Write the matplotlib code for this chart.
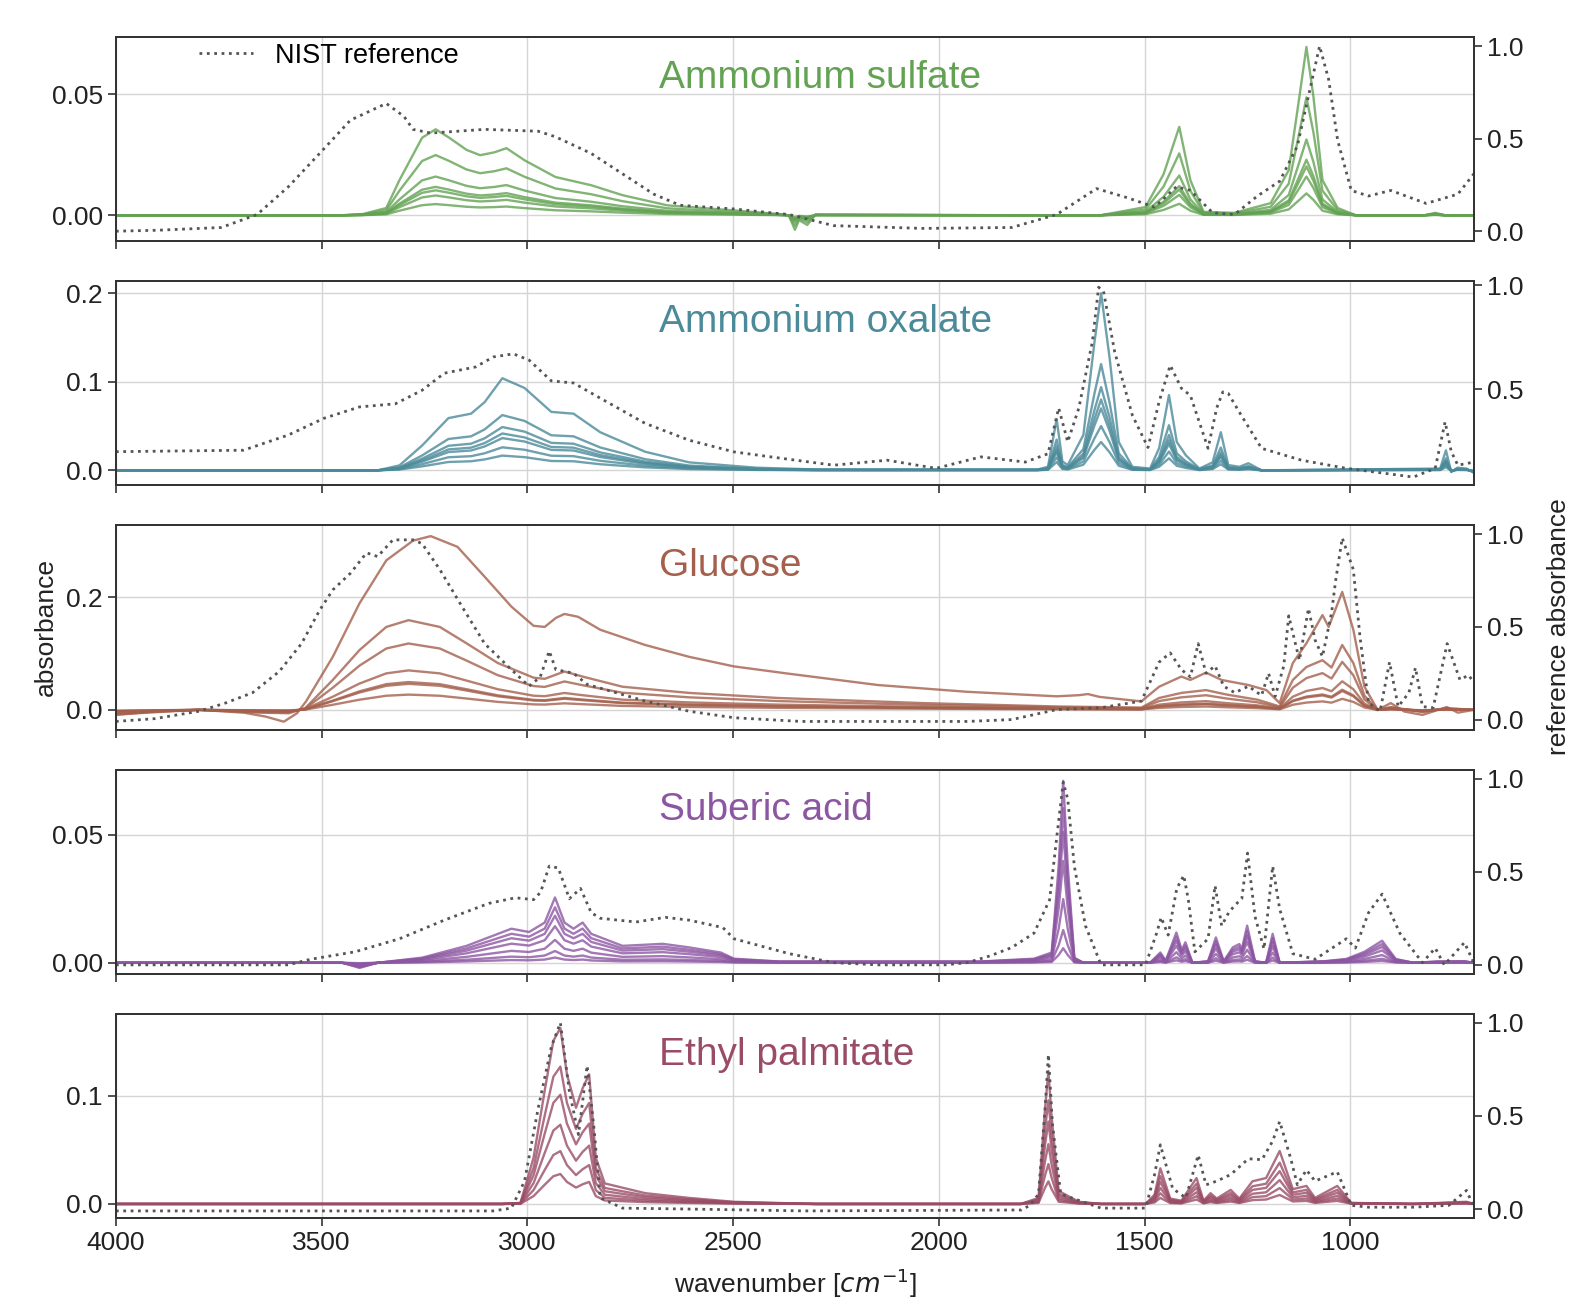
import matplotlib
matplotlib.use("Agg")
import matplotlib.pyplot as plt
import numpy as np
from matplotlib.ticker import MultipleLocator

plt.rcParams['font.family'] = ['Liberation Sans', 'DejaVu Sans']

# (wavenumber, absorbance) read off the figure; measured curves use the left axis,
# NIST references the right (normalised) axis.
SULFATE_MEAS = [(4000, 0), (3450, 0), (3400, 0.0005), (3343, 0.003), (3311, 0.0145), (3256, 0.032),
                (3223, 0.0355), (3190, 0.032), (3148, 0.027), (3115, 0.0248), (3080, 0.026), (3051, 0.0277),
                (3007, 0.0227), (2932, 0.0158), (2845, 0.0124), (2769, 0.0083), (2660, 0.0041), (2498, 0.002),
                (2388, 0.0005), (2365, 0), (2350, -0.006), (2340, -0.002), (2320, -0.004), (2300, 0.0003),
                (1800, 0), (1607, 0), (1498, 0.0034), (1454, 0.017), (1416, 0.0365), (1389, 0.0145),
                (1357, 0.0014), (1282, 0.001), (1194, 0.005), (1150, 0.0186), (1124, 0.049), (1107, 0.0695),
                (1090, 0.049), (1068, 0.0145), (1031, 0.003), (987, 0), (820, 0), (794, 0.001), (770, 0), (700, 0)]
SULFATE_SCALES = [1, 0.7, 0.45, 0.33, 0.29, 0.23, 0.13]
SULFATE_REF = [(4000, 0.0), (3900, 0.005), (3744, 0.02), (3657, 0.09), (3581, 0.24), (3505, 0.42), (3430, 0.60),
               (3343, 0.69), (3300, 0.62), (3278, 0.55), (3235, 0.53), (3104, 0.55), (2974, 0.54), (2932, 0.51),
               (2845, 0.42), (2769, 0.31), (2693, 0.20), (2629, 0.14), (2498, 0.12), (2411, 0.10), (2364, 0.09),
               (2256, 0.03), (2039, 0.015), (1823, 0.02), (1714, 0.09), (1617, 0.23), (1541, 0.18), (1476, 0.13),
               (1423, 0.24), (1389, 0.22), (1335, 0.10), (1282, 0.09), (1226, 0.19), (1172, 0.27), (1129, 0.46),
               (1102, 0.73), (1075, 1.0), (1053, 0.82), (1031, 0.49), (998, 0.22), (956, 0.19), (902, 0.22),
               (816, 0.15), (739, 0.20), (700, 0.31)]

OXALATE_MEAS = [(4000, 0), (3400, 0), (3364, 0.0), (3311, 0.0056), (3256, 0.028), (3192, 0.059), (3137, 0.064),
                (3104, 0.077), (3061, 0.104), (3007, 0.093), (2942, 0.066), (2888, 0.064), (2823, 0.043),
                (2714, 0.021), (2607, 0.009), (2444, 0.003), (2300, 0.001), (1760, 0.001), (1735, 0.004),
                (1714, 0.058), (1700, 0.01), (1687, 0.006), (1649, 0.04), (1622, 0.145), (1606, 0.2),
                (1585, 0.126), (1563, 0.032), (1530, 0.004), (1487, 0.002), (1465, 0.025), (1441, 0.085),
                (1422, 0.032), (1400, 0.017), (1367, 0.002), (1335, 0.009), (1315, 0.043), (1297, 0.006),
                (1270, 0.004), (1248, 0.008), (1216, 0.0), (782, 0.002), (768, 0.0226), (755, -0.002),
                (740, 0.003), (718, 0.002), (700, -0.003)]
OXALATE_SCALES = [1, 0.6, 0.47, 0.4, 0.35, 0.25, 0.16]
OXALATE_REF = [(4000, 0.20), (3690, 0.207), (3581, 0.28), (3495, 0.36), (3408, 0.415), (3321, 0.43), (3256, 0.495),
               (3202, 0.577), (3126, 0.607), (3083, 0.655), (3034, 0.67), (2996, 0.64), (2942, 0.54), (2888, 0.53),
               (2823, 0.457), (2714, 0.336), (2607, 0.255), (2498, 0.199), (2390, 0.17), (2256, 0.135),
               (2126, 0.159), (2007, 0.12), (1898, 0.175), (1790, 0.15), (1735, 0.19), (1709, 0.41), (1687, 0.247),
               (1660, 0.41), (1627, 0.73), (1612, 0.99), (1600, 0.97), (1573, 0.68), (1530, 0.375), (1492, 0.22),
               (1465, 0.44), (1438, 0.615), (1411, 0.505), (1389, 0.47), (1346, 0.216), (1325, 0.41), (1310, 0.487),
               (1297, 0.48), (1270, 0.39), (1216, 0.216), (1119, 0.159), (1010, 0.12), (847, 0.078), (794, 0.12),
               (770, 0.343), (755, 0.2), (739, 0.135), (700, 0.15)]

GLUCOSE_TOP = [(4000, -0.009), (3906, -0.003), (3798, 0.0), (3689, -0.005), (3636, -0.012), (3592, -0.021),
               (3560, -0.006), (3538, 0.015), (3473, 0.094), (3408, 0.189), (3343, 0.265), (3278, 0.30),
               (3235, 0.308), (3170, 0.289), (3104, 0.236), (3039, 0.183), (2985, 0.149), (2958, 0.147),
               (2931, 0.163), (2910, 0.170), (2877, 0.165), (2823, 0.142), (2714, 0.115), (2607, 0.094),
               (2498, 0.077), (2364, 0.064), (2148, 0.044), (1931, 0.032), (1714, 0.024), (1660, 0.026),
               (1638, 0.028), (1610, 0.023), (1585, 0.021), (1508, 0.015), (1465, 0.041), (1411, 0.059),
               (1389, 0.053), (1351, 0.066), (1313, 0.053), (1248, 0.044), (1204, 0.035), (1172, 0.012),
               (1140, 0.083), (1107, 0.118), (1068, 0.168), (1053, 0.147), (1020, 0.209), (993, 0.142),
               (966, 0.041), (934, 0.0), (902, 0.012), (869, -0.003), (825, -0.009), (766, 0.005),
               (739, -0.005), (700, 0.0)]
GLUCOSE_LOW = [(4000, -0.008), (3800, 0.0), (3650, -0.005), (3580, -0.006), (3540, 0.003), (3473, 0.053),
               (3408, 0.106), (3343, 0.147), (3289, 0.159), (3213, 0.147), (3148, 0.118), (3072, 0.083),
               (2985, 0.057), (2958, 0.055), (2910, 0.068), (2866, 0.059), (2769, 0.041), (2607, 0.030),
               (2390, 0.021), (2039, 0.012), (1714, 0.006), (1508, 0.004), (1465, 0.021), (1411, 0.030),
               (1351, 0.035), (1300, 0.027), (1226, 0.018), (1172, 0.006), (1140, 0.053), (1107, 0.076),
               (1068, 0.088), (1046, 0.075), (1020, 0.115), (993, 0.083), (966, 0.025), (934, 0.0),
               (902, 0.005), (825, -0.004), (766, 0.003), (700, 0.0)]
GLUCOSE_LOW_SCALES = [1, 0.74, 0.44, 0.31, 0.29, 0.17]
GLUCOSE_REF = [(4000, -0.01), (3906, 0.005), (3798, 0.045), (3733, 0.09), (3668, 0.145), (3603, 0.26),
               (3549, 0.41), (3505, 0.59), (3473, 0.70), (3430, 0.79), (3391, 0.90), (3364, 0.88), (3327, 0.97),
               (3278, 0.97), (3256, 0.95), (3213, 0.81), (3159, 0.61), (3104, 0.41), (3039, 0.27), (2996, 0.18),
               (2969, 0.23), (2947, 0.37), (2931, 0.27), (2888, 0.25), (2855, 0.19), (2714, 0.10), (2607, 0.045),
               (2498, 0.01), (2335, -0.01), (1931, -0.01), (1823, 0.0), (1714, 0.054), (1606, 0.064), (1508, 0.10),
               (1465, 0.31), (1438, 0.36), (1411, 0.27), (1389, 0.23), (1370, 0.41), (1351, 0.25), (1329, 0.29),
               (1308, 0.18), (1281, 0.145), (1248, 0.18), (1216, 0.13), (1199, 0.25), (1183, 0.125), (1162, 0.29),
               (1150, 0.56), (1124, 0.32), (1102, 0.60), (1086, 0.43), (1068, 0.34), (1046, 0.575), (1036, 0.75),
               (1020, 0.98), (993, 0.81), (977, 0.45), (956, 0.09), (928, 0.045), (905, 0.31), (884, 0.07),
               (858, 0.145), (842, 0.28), (825, 0.07), (799, 0.064), (765, 0.41), (734, 0.215), (713, 0.24),
               (700, 0.2)]

SUBERIC_MEAS = [(4000, 0), (3450, 0), (3408, -0.002), (3364, 0), (3256, 0.002), (3148, 0.0066), (3039, 0.0133),
                (2996, 0.012), (2958, 0.0157), (2933, 0.0255), (2910, 0.0157), (2888, 0.0133), (2866, 0.0157),
                (2845, 0.0113), (2769, 0.0066), (2671, 0.0074), (2607, 0.006), (2530, 0.004), (2498, 0.0016),
                (2388, 0.0005), (1900, 0.0005), (1769, 0.0016), (1726, 0.004), (1709, 0.038), (1698, 0.071),
                (1687, 0.038), (1671, 0.002), (1649, 0), (1487, 0), (1462, 0.004), (1449, 0.0008), (1423, 0.0118),
                (1410, 0.005), (1401, 0.008), (1384, 0), (1346, 0.0006), (1327, 0.0099), (1308, 0.0006),
                (1286, 0.006), (1270, 0.0073), (1264, 0.0053), (1251, 0.0145), (1232, 0.0006), (1205, 0),
                (1189, 0.0113), (1172, 0), (1064, 0.0006), (1010, 0.0015), (966, 0.0043), (923, 0.0086),
                (890, 0.0015), (847, 0), (788, 0.0005), (723, 0.0006), (700, 0)]
SUBERIC_SCALES = [1, 0.85, 0.72, 0.56, 0.35, 0.18, 0.08]
SUBERIC_REF = [(4000, 0.0), (3581, 0.0), (3527, 0.03), (3419, 0.07), (3311, 0.14), (3202, 0.24), (3094, 0.33),
               (3029, 0.36), (2985, 0.35), (2968, 0.39), (2947, 0.53), (2925, 0.52), (2898, 0.355), (2871, 0.41),
               (2845, 0.28), (2823, 0.25), (2736, 0.23), (2665, 0.255), (2607, 0.24), (2525, 0.20), (2498, 0.14),
               (2389, 0.075), (2364, 0.06), (2256, 0.012), (2148, 0.0), (1985, 0.0), (1931, 0.012), (1876, 0.048),
               (1823, 0.093), (1769, 0.17), (1731, 0.35), (1714, 0.68), (1698, 0.98), (1687, 0.89), (1671, 0.53),
               (1644, 0.21), (1606, 0.0), (1498, 0.0), (1471, 0.17), (1460, 0.255), (1443, 0.16), (1422, 0.41),
               (1405, 0.48), (1394, 0.35), (1378, 0.07), (1346, 0.14), (1329, 0.425), (1313, 0.21), (1296, 0.28),
               (1281, 0.32), (1264, 0.355), (1250, 0.60), (1232, 0.26), (1210, 0.085), (1189, 0.53), (1172, 0.30),
               (1140, 0.06), (1086, 0.03), (1010, 0.14), (988, 0.09), (956, 0.28), (923, 0.38), (880, 0.17),
               (825, 0.012), (794, 0.09), (772, 0.0), (723, 0.12), (700, 0.01)]

ETHYL_MEAS = [(4000, 0), (3061, 0), (3017, 0.001), (2985, 0.043), (2958, 0.105), (2937, 0.151), (2920, 0.163),
              (2904, 0.12), (2882, 0.089), (2866, 0.107), (2850, 0.12), (2834, 0.043), (2812, 0.019),
              (2714, 0.010), (2607, 0.0056), (2498, 0.002), (2300, 0), (1801, 0), (1758, 0.0056), (1742, 0.089),
              (1734, 0.123), (1726, 0.08), (1709, 0.012), (1660, 0.002), (1606, 0), (1498, 0), (1476, 0.0086),
              (1462, 0.033), (1438, 0.005), (1411, 0.003), (1374, 0.024), (1357, 0.003), (1340, 0.010),
              (1325, 0.005), (1291, 0.013), (1270, 0.005), (1238, 0.021), (1205, 0.024), (1172, 0.049),
              (1140, 0.0137), (1107, 0.0167), (1086, 0.0056), (1032, 0.0167), (998, 0.001), (847, 0),
              (718, 0.002), (700, 0)]
ETHYL_SCALES = [1, 0.78, 0.62, 0.45, 0.3, 0.17]
ETHYL_REF = [(4000, -0.01), (3083, -0.01), (3039, 0.005), (3007, 0.15), (2974, 0.54), (2942, 0.87), (2920, 1.0),
             (2898, 0.63), (2876, 0.40), (2855, 0.77), (2839, 0.45), (2823, 0.06), (2769, 0.005), (2607, 0.0),
             (2325, -0.01), (1800, -0.005), (1779, 0.02), (1758, 0.08), (1742, 0.54), (1734, 0.83), (1724, 0.45),
             (1704, 0.08), (1606, 0.005), (1498, 0.005), (1476, 0.185), (1462, 0.345), (1432, 0.11), (1400, 0.06),
             (1370, 0.29), (1351, 0.13), (1325, 0.15), (1291, 0.185), (1248, 0.27), (1215, 0.265), (1189, 0.365),
             (1172, 0.47), (1145, 0.27), (1129, 0.13), (1107, 0.21), (1086, 0.15), (1032, 0.20), (998, 0.02),
             (956, 0.01), (847, 0.01), (761, 0.02), (718, 0.10), (700, 0.01)]

NAMES = ['Ammonium sulfate', 'Ammonium oxalate', 'Glucose', 'Suberic acid', 'Ethyl palmitate']
COLORS = ['#62a252', '#4a8a99', '#a4604d', '#8c56a2', '#9a4c66']
LEFT_LIMS = [(-0.0107, 0.0736), (-0.017, 0.2136), (-0.035, 0.327), (-0.0043, 0.0754), (-0.013, 0.176)]
RIGHT_LIMS = [(-0.054, 1.049), (0.038, 1.019), (-0.054, 1.048), (-0.048, 1.048), (-0.048, 1.048)]
LEFT_STEPS = [0.05, 0.1, 0.2, 0.05, 0.1]

TICK_SIZE = 19
INK = '#333333'


def curve(points):
    arr = np.array(points, dtype=float)
    return arr[:, 0], arr[:, 1]


def style_axis(ax):
    for spine in ax.spines.values():
        spine.set_color(INK)
        spine.set_linewidth(1.3)
    ax.tick_params(direction='out', length=6, width=1.2, color=INK, labelsize=TICK_SIZE, labelcolor='#222222')


def plot_panel(ax, i, groups, ref):
    color = COLORS[i]
    for points, scales in groups:
        wn, vals = curve(points)
        for s in scales:
            ax.plot(wn, s * vals, color=color, lw=1.7, alpha=0.8)
    ax.yaxis.set_major_locator(MultipleLocator(LEFT_STEPS[i]))
    ax.set_ylim(*LEFT_LIMS[i])
    ax.grid(True, color='#d5d5d5', lw=1.0)
    ax.set_axisbelow(True)
    style_axis(ax)
    ax.text(0.40, 0.80, NAMES[i], transform=ax.transAxes, color=color, fontsize=28,
            ha='left', va='center')

    rax = ax.twinx()
    rwn, rvals = curve(ref)
    rax.plot(rwn, rvals, color='#555555', ls=':', lw=2.0, label='NIST reference')
    rax.set_yticks([0.0, 0.5, 1.0])
    rax.set_ylim(*RIGHT_LIMS[i])
    style_axis(rax)
    return rax


def main() -> None:
    fig, axes = plt.subplots(5, 1, sharex=True, figsize=(15.73, 12.99), dpi=100)
    fig.subplots_adjust(left=0.0737, right=0.937, top=1 - 37 / 1299, bottom=1 - 1218 / 1299, hspace=0.196)

    panels = [
        ([(SULFATE_MEAS, SULFATE_SCALES)], SULFATE_REF),
        ([(OXALATE_MEAS, OXALATE_SCALES)], OXALATE_REF),
        ([(GLUCOSE_TOP, [1]), (GLUCOSE_LOW, GLUCOSE_LOW_SCALES)], GLUCOSE_REF),
        ([(SUBERIC_MEAS, SUBERIC_SCALES)], SUBERIC_REF),
        ([(ETHYL_MEAS, ETHYL_SCALES)], ETHYL_REF),
    ]
    for i, (groups, ref) in enumerate(panels):
        rax = plot_panel(axes[i], i, groups, ref)
        if i == 0:
            rax.legend(loc='upper left', bbox_to_anchor=(0.053, 1.025), borderaxespad=0, frameon=False,
                       fontsize=19.5, handlelength=2.0, handletextpad=0.8)

    axes[-1].set_xlim(4000, 700)
    axes[-1].set_xticks([4000, 3500, 3000, 2500, 2000, 1500, 1000])
    axes[-1].set_xlabel('wavenumber [$cm^{-1}$]', fontsize=TICK_SIZE, color='#222222', labelpad=8)

    fig.text(0.029, (1299 - 627) / 1299, 'absorbance', rotation=90, ha='center', va='center',
             fontsize=TICK_SIZE, color='#222222')
    fig.text(0.991, (1299 - 627) / 1299, 'reference absorbance', rotation=90, ha='center', va='center',
             fontsize=TICK_SIZE, color='#222222')

    fig.savefig('out.png', dpi=100, facecolor='white')
    plt.close(fig)


if __name__ == '__main__':
    main()
